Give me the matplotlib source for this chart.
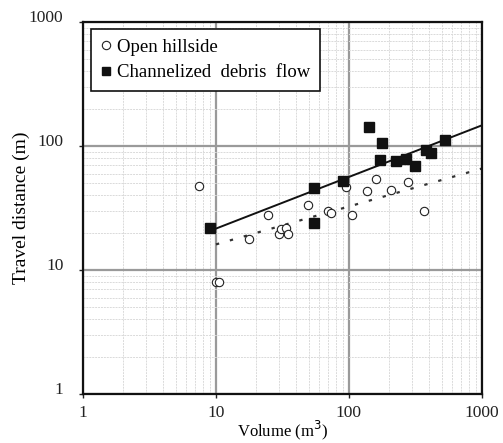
import matplotlib.pyplot as plt
from matplotlib.ticker import LogLocator, NullFormatter
import numpy as np

# open hillside events
open_vol = [7.4, 10.0, 10.5, 17.8, 24.8, 29.9, 31.1, 33.5, 35.1, 49.6, 69.7, 73,
            95.7, 106, 136, 159, 207, 278, 367]
open_dist = [47.7, 8.0, 8.0, 17.9, 27.7, 19.7, 21.6, 21.7, 19.7, 33.6, 29.8, 28.6,
             47.2, 27.7, 43.5, 54.7, 44.3, 51.4, 29.7]

# channelized debris flow events
chan_vol = [8.95, 55, 55, 89.8, 142, 178, 170, 227, 270, 316, 382, 417, 525]
chan_dist = [21.8, 46, 24, 52, 143.5, 106, 76.8, 75.9, 79, 69, 93, 88, 112]

# power-law fits  L = a * V^b
fit_x = np.array([10, 1000])
chan_a, chan_b = 8.28, 0.4165
open_a, open_b = 7.96, 0.306

plt.rcParams['font.family'] = ['Liberation Serif', 'DejaVu Serif']

fig = plt.figure(figsize=(5.03, 4.43), dpi=100)
ax = fig.add_axes([0.165, 0.1106, 0.793, 0.8394])

ax.set_xscale('log')
ax.set_yscale('log')
ax.set_xlim(1, 1000)
ax.set_ylim(1, 1000)

# grid: heavy decades, faint subdivisions
ax.xaxis.set_minor_locator(LogLocator(base=10, subs=np.arange(2, 10)))
ax.yaxis.set_minor_locator(LogLocator(base=10, subs=np.arange(2, 10)))
ax.xaxis.set_minor_formatter(NullFormatter())
ax.yaxis.set_minor_formatter(NullFormatter())
ax.grid(True, which='major', color='#9a9a9a', lw=1.6)
ax.grid(True, which='minor', color='#dadada', lw=0.7, ls=(0, (2, 1)))
ax.set_axisbelow(True)

ax.plot(fit_x, chan_a * fit_x**chan_b, color='#111111', lw=1.4, zorder=2)
ax.plot(fit_x, open_a * fit_x**open_b, color='#333333', lw=1.6, ls=(0, (1.5, 5)), zorder=2)

ax.plot(open_vol, open_dist, 'o', mfc='white', mec='#222222', mew=0.8, ms=6,
        label='Open hillside', zorder=3)
ax.plot(chan_vol, chan_dist, 's', mfc='#111111', mec='#111111', ms=7.5,
        label='Channelized  debris  flow', zorder=3)

ax.set_xticks([1, 10, 100, 1000])
ax.set_xticklabels(['1', '10', '100', '1000'])
ax.set_yticks([1, 10, 100, 1000])
ax.set_yticklabels(['1', '10', '100', '1000'], va='baseline')
ax.tick_params(which='major', length=3, width=1, labelsize=12.5, colors='#222222')
ax.tick_params(axis='y', pad=11)
ax.tick_params(axis='x', pad=5)
ax.tick_params(which='minor', length=0)

for s in ax.spines.values():
    s.set_linewidth(1.6)
    s.set_color('#111111')

ax.set_xlabel('Volume (m$^3$)', fontsize=12, labelpad=-2)
ax.set_ylabel('Travel distance (m)', fontsize=14, labelpad=-1)

leg = ax.legend(loc='upper left', bbox_to_anchor=(0.02, 0.981), borderaxespad=0,
                fontsize=13.5, fancybox=False, framealpha=1, edgecolor='#111111',
                handlelength=0.6, handletextpad=0.3, borderpad=0.5, labelspacing=0.45)
leg.get_frame().set_linewidth(1.2)
for h in leg.legend_handles:
    h.set_markersize(6)

fig.savefig('out.png', dpi=100)
